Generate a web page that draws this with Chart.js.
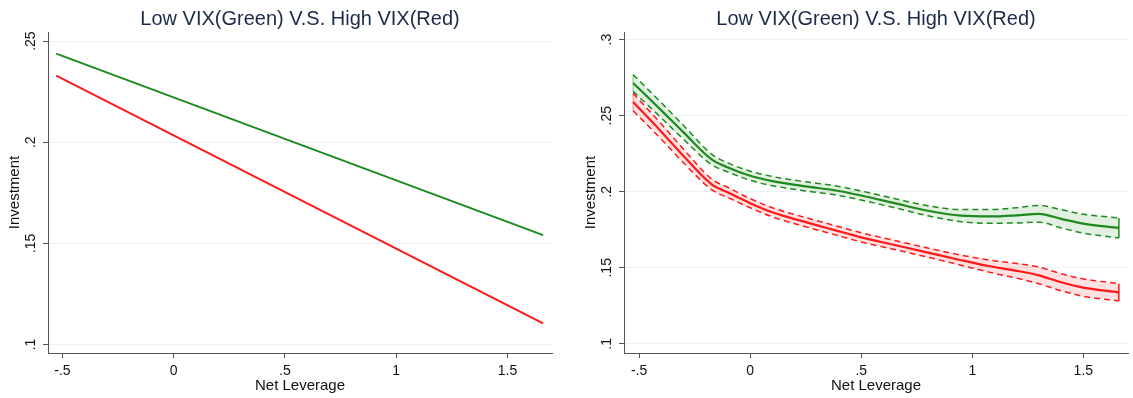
<!DOCTYPE html>
<html>
<head>
<meta charset="utf-8">
<script src="https://cdn.jsdelivr.net/npm/chart.js@4.4.1/dist/chart.umd.min.js"></script>
<style>
  html, body { margin: 0; padding: 0; background: #fff; }
  body { width: 1133px; height: 398px; position: relative; overflow: hidden; }
  .panel { position: absolute; top: 0; height: 398px; }
  #leftPanel { left: 0; width: 566px; }
  #rightPanel { left: 576px; width: 557px; }
</style>
</head>
<body>
<div class="panel" id="leftPanel"><canvas id="leftChart"></canvas></div>
<div class="panel" id="rightPanel"><canvas id="rightChart"></canvas></div>
<script>
// Eixos e rótulos
const xTicks = [-0.5, 0, 0.5, 1, 1.5];
const xTickLabels = ["-.5", "0", ".5", "1", "1.5"];
const yTicksLeft = [0.1, 0.15, 0.2, 0.25];
const yTickLabelsLeft = [".1", ".15", ".2", ".25"];
const yTicksRight = [0.1, 0.15, 0.2, 0.25, 0.3];
const yTickLabelsRight = [".1", ".15", ".2", ".25", ".3"];

// Gráfico da esquerda (retas)
const leftX = [-0.528, 1.660];
const leftGreen = [0.2438, 0.1541];
const leftRed = [0.2329, 0.1104];

// Gráfico da direita (curvas com intervalo)
const rightX = [-0.527, -0.4, -0.3, -0.172, -0.1, 0, 0.1, 0.25, 0.38, 0.5, 0.65, 0.8, 0.95, 1.08, 1.2, 1.3, 1.4, 1.5, 1.66];
const greenMid = [0.2715, 0.2535, 0.2390, 0.2211, 0.2160, 0.2105, 0.2070, 0.2035, 0.2010, 0.1975, 0.1925, 0.1875, 0.1843, 0.1838, 0.1845, 0.1855, 0.1822, 0.1790, 0.1762];
const greenHi = [0.2770, 0.2585, 0.2435, 0.2246, 0.2190, 0.2135, 0.2100, 0.2065, 0.2040, 0.2005, 0.1955, 0.1908, 0.1883, 0.1883, 0.1895, 0.1910, 0.1882, 0.1852, 0.1828];
const greenLo = [0.2660, 0.2485, 0.2345, 0.2176, 0.2130, 0.2075, 0.2040, 0.2005, 0.1980, 0.1945, 0.1895, 0.1842, 0.1803, 0.1793, 0.1795, 0.1800, 0.1762, 0.1728, 0.1696];
const redMid = [0.2590, 0.2395, 0.2235, 0.2047, 0.1995, 0.1925, 0.1865, 0.1800, 0.1748, 0.1700, 0.1650, 0.1600, 0.1550, 0.1510, 0.1480, 0.1450, 0.1405, 0.1370, 0.1339];
const redHi = [0.2647, 0.2445, 0.2280, 0.2082, 0.2028, 0.1955, 0.1895, 0.1830, 0.1778, 0.1730, 0.1680, 0.1630, 0.1583, 0.1550, 0.1528, 0.1505, 0.1461, 0.1427, 0.1396];
const redLo = [0.2533, 0.2345, 0.2190, 0.2012, 0.1962, 0.1895, 0.1835, 0.1770, 0.1718, 0.1670, 0.1620, 0.1570, 0.1517, 0.1470, 0.1432, 0.1395, 0.1349, 0.1313, 0.1282];

const titulo = "Low VIX(Green) V.S. High VIX(Red)";
const verde = "#1e8a1e";
const vermelho = "#ff1a1a";
const fonte = "'Liberation Sans', Arial, Helvetica, sans-serif";

Chart.defaults.font.family = fonte;
Chart.defaults.color = "#111";

function pontos(xs, ys) {
  return xs.map((x, i) => ({ x: x, y: ys[i] }));
}

// Monta as opções comuns dos dois gráficos
function opcoes(xMin, xMax, yMin, yMax, yTicks, yLabels) {
  return {
    responsive: true,
    maintainAspectRatio: false,
    animation: false,
    layout: { padding: { left: 0, right: 5, top: 0, bottom: 0 } },
    plugins: {
      legend: { display: false },
      tooltip: { enabled: false },
      title: {
        display: true,
        text: titulo,
        fullSize: false,
        color: "#1c2947",
        font: { size: 20, weight: "normal", lineHeight: 1.2 },
        padding: { top: 7.5, bottom: 0.5 }
      }
    },
    elements: { point: { radius: 0 } },
    scales: {
      x: {
        type: "linear",
        min: xMin,
        max: xMax,
        afterFit: (s) => { s.height = 45; },
        afterBuildTicks: (s) => { s.ticks = xTicks.map(v => ({ value: v })); },
        border: { color: "#555", width: 1 },
        grid: { drawOnChartArea: false, drawTicks: true, tickLength: 5, tickColor: "#555" },
        ticks: {
          padding: 5,
          font: { size: 14 },
          maxRotation: 0,
          callback: (v) => xTickLabels[xTicks.indexOf(v)]
        },
        title: { display: true, text: "Net Leverage", font: { size: 15 }, padding: { top: 0, bottom: 3 } }
      },
      y: {
        type: "linear",
        min: yMin,
        max: yMax,
        afterFit: (s) => { s.width = 48; },
        afterBuildTicks: (s) => { s.ticks = yTicks.map(v => ({ value: v })); },
        border: { color: "#555", width: 1 },
        grid: { color: "#e9f1f2", lineWidth: 1, drawTicks: true, tickLength: 5, tickColor: "#555" },
        ticks: {
          padding: 2,
          font: { size: 14 },
          minRotation: 90,
          maxRotation: 90,
          crossAlign: "center",
          callback: (v) => yLabels[yTicks.indexOf(v)]
        },
        title: { display: true, text: "Investment", font: { size: 15 }, padding: { top: 6, bottom: 0 } }
      }
    }
  };
}

// Gráfico da esquerda
const optsEsq = opcoes(-0.565, 1.70, 0.0958, 0.2545, yTicksLeft, yTickLabelsLeft);
optsEsq.layout.padding.right = 14;
new Chart(document.getElementById("leftChart"), {
  type: "line",
  data: {
    datasets: [
      { data: pontos(leftX, leftGreen), borderColor: verde, borderWidth: 2, fill: false },
      { data: pontos(leftX, leftRed), borderColor: vermelho, borderWidth: 2, fill: false }
    ]
  },
  options: optsEsq
});

// Faixa de confiança: limite superior preenchido até o inferior
function faixa(hi, lo, mid, cor, corFundo, corBorda) {
  const n = rightX.length - 1;
  return [
    { data: pontos(rightX, hi), borderColor: cor, borderWidth: 1.5, borderDash: [6, 4], fill: "+1", backgroundColor: corFundo, cubicInterpolationMode: "monotone" },
    { data: pontos(rightX, lo), borderColor: cor, borderWidth: 1.5, borderDash: [6, 4], fill: false, cubicInterpolationMode: "monotone" },
    { data: pontos(rightX, mid), borderColor: cor, borderWidth: 2.2, fill: false, cubicInterpolationMode: "monotone" },
    // bordas verticais da faixa
    { data: [{ x: rightX[0], y: lo[0] }, { x: rightX[0], y: hi[0] }], borderColor: corBorda, borderWidth: 1, fill: false },
    { data: [{ x: rightX[n], y: lo[n] }, { x: rightX[n], y: hi[n] }], borderColor: cor, borderWidth: 1.5, fill: false }
  ];
}

new Chart(document.getElementById("rightChart"), {
  type: "line",
  data: {
    datasets: [
      ...faixa(greenHi, greenLo, greenMid, verde, "rgba(30,138,30,0.13)", "rgba(30,138,30,0.5)"),
      ...faixa(redHi, redLo, redMid, vermelho, "rgba(255,26,26,0.13)", "rgba(255,26,26,0.5)")
    ]
  },
  options: opcoes(-0.568, 1.701, 0.094, 0.305, yTicksRight, yTickLabelsRight)
});
</script>
</body>
</html>
